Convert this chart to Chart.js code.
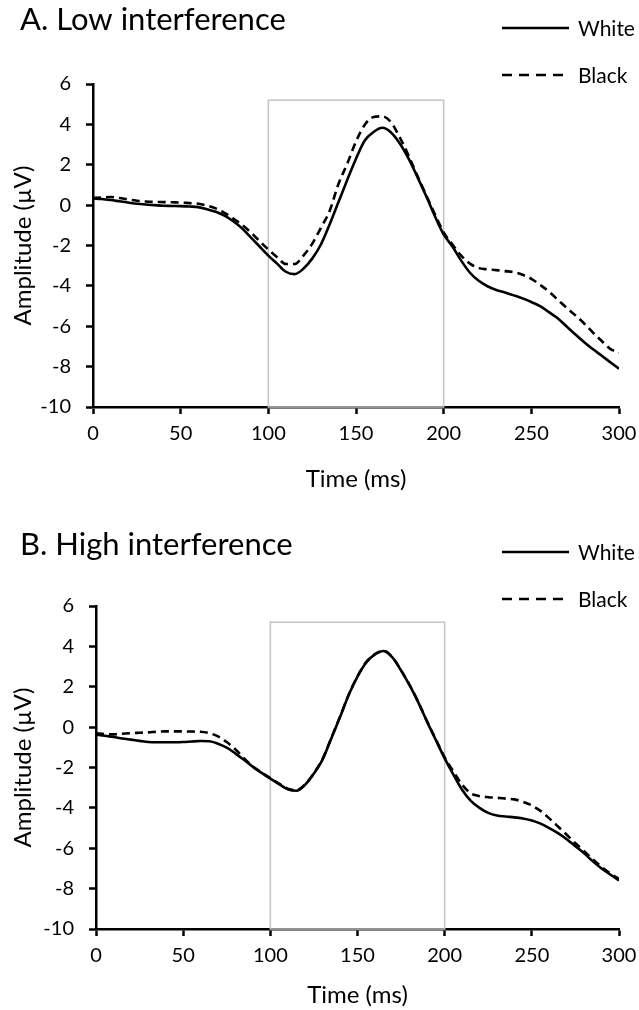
<!DOCTYPE html>
<html>
<head>
<meta charset="utf-8">
<script src="https://cdn.jsdelivr.net/npm/chart.js@4.4.1/dist/chart.umd.min.js"></script>
<style>
  body { margin: 0; background: #fff; }
  .panel { position: absolute; left: 0; width: 639px; }
  #panel-a { top: 0; height: 495px; }
  #panel-b { top: 495px; height: 515px; }
</style>
</head>
<body>
<div class="panel" id="panel-a"><canvas id="chart-a" width="639" height="495"></canvas></div>
<div class="panel" id="panel-b"><canvas id="chart-b" width="639" height="515"></canvas></div>
<script>
// time points (ms) the curves were read at
const timeMs = [0, 5, 10, 15, 20, 25, 30, 35, 40, 45, 50, 55, 60, 65, 70, 75, 80, 85, 90, 95,
  100, 105, 110, 115, 120, 125, 130, 135, 140, 145, 150, 155, 160, 165, 170, 175, 180, 185, 190, 195,
  200, 205, 210, 215, 220, 225, 230, 235, 240, 245, 250, 255, 260, 265, 270, 275, 280, 285, 290, 295, 300];

// A. Low interference
const lowWhite = [0.33, 0.30, 0.25, 0.19, 0.13, 0.07, 0.03, 0.0, -0.03, -0.04, -0.05, -0.07, -0.1, -0.2, -0.33, -0.52, -0.8, -1.15, -1.6, -2.05,
  -2.5, -2.9, -3.3, -3.42, -3.15, -2.65, -1.95, -0.95, 0.15, 1.25, 2.3, 3.2, 3.62, 3.83, 3.6, 3.05, 2.3, 1.4, 0.45, -0.55,
  -1.45, -2.05, -2.75, -3.35, -3.75, -4.02, -4.2, -4.33, -4.47, -4.62, -4.8, -5.0, -5.3, -5.6, -6.0, -6.4, -6.78, -7.13, -7.45, -7.78, -8.1];
const lowBlack = [0.35, 0.38, 0.4, 0.35, 0.28, 0.22, 0.18, 0.16, 0.15, 0.14, 0.13, 0.1, 0.07, -0.02, -0.16, -0.38, -0.66, -0.98, -1.35, -1.78,
  -2.2, -2.58, -2.92, -2.92, -2.5, -1.92, -1.12, -0.28, 1.05, 2.05, 3.15, 3.98, 4.37, 4.4, 4.1, 3.35, 2.45, 1.45, 0.5, -0.45,
  -1.35, -1.95, -2.5, -2.9, -3.12, -3.18, -3.22, -3.27, -3.32, -3.45, -3.65, -3.95, -4.28, -4.68, -5.08, -5.45, -5.85, -6.3, -6.72, -7.12, -7.3];

// B. High interference
const highWhite = [-0.36, -0.43, -0.49, -0.56, -0.62, -0.68, -0.74, -0.75, -0.75, -0.75, -0.74, -0.71, -0.69, -0.7, -0.82, -1.02, -1.31, -1.63, -1.97, -2.27,
  -2.55, -2.82, -3.08, -3.15, -2.85, -2.3, -1.6, -0.55, 0.5, 1.6, 2.5, 3.2, 3.6, 3.77, 3.45, 2.8, 2.05, 1.2, 0.25, -0.65,
  -1.55, -2.35, -3.1, -3.65, -4.0, -4.25, -4.38, -4.43, -4.47, -4.53, -4.62, -4.78, -5.0, -5.25, -5.55, -5.9, -6.25, -6.65, -7.0, -7.3, -7.6];
const highBlack = [-0.3, -0.34, -0.36, -0.33, -0.3, -0.28, -0.26, -0.23, -0.21, -0.21, -0.21, -0.22, -0.23, -0.3, -0.46, -0.74, -1.11, -1.55, -1.95, -2.25,
  -2.53, -2.8, -3.05, -3.12, -2.83, -2.28, -1.57, -0.53, 0.52, 1.62, 2.52, 3.22, 3.62, 3.78, 3.46, 2.82, 2.07, 1.22, 0.27, -0.62,
  -1.5, -2.2, -2.85, -3.28, -3.42, -3.47, -3.5, -3.54, -3.58, -3.7, -3.88, -4.15, -4.52, -4.92, -5.33, -5.75, -6.15, -6.55, -6.92, -7.25, -7.52];

const seriesNames = ['White', 'Black'];
const panelTitles = ['A. Low interference', 'B. High interference'];
const xRange = [0, 300];
const yRange = [-10, 6];
// the grey analysis window (ms, and its top in µV)
const windowMs = [100, 200];
const windowTop = 5.2;

Chart.defaults.font.family = 'Lato, "Open Sans", sans-serif';
Chart.defaults.color = '#000';

// grey box 100-200 ms, drawn behind the curves
const windowBox = {
  id: 'windowBox',
  beforeDatasetsDraw(chart) {
    const {ctx, scales: {x, y}} = chart;
    const left = x.getPixelForValue(windowMs[0]);
    const right = x.getPixelForValue(windowMs[1]);
    const top = y.getPixelForValue(windowTop);
    const bottom = y.getPixelForValue(yRange[0]);
    ctx.save();
    ctx.strokeStyle = '#c4c4c4';
    ctx.lineWidth = 1.5;
    ctx.strokeRect(left, top, right - left, bottom - top);
    ctx.restore();
  }
};

// panel heading + the little two row legend at top right
const panelText = {
  id: 'panelText',
  afterDraw(chart, args, opts) {
    const ctx = chart.ctx;
    ctx.save();
    ctx.fillStyle = '#000';
    ctx.textBaseline = 'alphabetic';
    ctx.font = '31px Lato, "Open Sans", sans-serif';
    ctx.fillText(opts.title, 20, opts.titleY);

    ctx.font = '21px Lato, "Open Sans", sans-serif';
    ctx.textBaseline = 'middle';
    chart.data.datasets.forEach((ds, i) => {
      const ly = opts.legendY[i];
      ctx.strokeStyle = '#000';
      ctx.lineWidth = 2.5;
      ctx.setLineDash(ds.borderDash.length ? [10, 7] : []);
      ctx.beginPath();
      ctx.moveTo(502, ly);
      ctx.lineTo(569, ly);
      ctx.stroke();
      ctx.fillText(ds.label, 578, ly + 1);
    });
    ctx.restore();
  }
};

function makeChart(canvasId, white, black, title, box) {
  const canvas = document.querySelector(canvasId);
  return new Chart(canvas.getContext('2d'), {
    type: 'line',
    data: {
      labels: timeMs,
      datasets: [
        { label: seriesNames[0], data: timeMs.map((t, i) => ({x: t, y: white[i]})), borderColor: '#000', borderWidth: 2.6, borderDash: [], pointRadius: 0, cubicInterpolationMode: 'monotone' },
        { label: seriesNames[1], data: timeMs.map((t, i) => ({x: t, y: black[i]})), borderColor: '#000', borderWidth: 2.6, borderDash: [8, 5], pointRadius: 0, cubicInterpolationMode: 'monotone' }
      ]
    },
    options: {
      responsive: false,
      animation: false,
      layout: { padding: box.padding },
      plugins: {
        legend: { display: false },
        tooltip: { enabled: false },
        panelText: { title: title, titleY: box.titleY, legendY: box.legendY }
      },
      scales: {
        x: {
          type: 'linear', min: xRange[0], max: xRange[1],
          ticks: { stepSize: 50, padding: 8, font: { size: 20 } },
          grid: { drawOnChartArea: false, drawTicks: true, tickLength: 7, color: '#000', tickWidth: 2.5 },
          border: { display: true, color: '#000', width: 2.5 },
          title: { display: true, text: 'Time (ms)', font: { size: 24 }, padding: 0 },
          afterFit(scale) {
            scale.height = box.xHeight;
            // don't let the "300" label push the plot in, layout padding handles it
            scale.paddingLeft = 0;
            scale.paddingRight = 0;
          }
        },
        y: {
          min: yRange[0], max: yRange[1],
          ticks: { stepSize: 2, padding: 15, font: { size: 20 } },
          grid: { drawOnChartArea: false, drawTicks: true, tickLength: 7, color: '#000', tickWidth: 2.5 },
          border: { display: true, color: '#000', width: 2.5 },
          title: { display: true, text: 'Amplitude (µV)', font: { size: 24 }, padding: 0 },
          afterFit(scale) { scale.width = box.yWidth; }
        }
      }
    },
    plugins: [windowBox, panelText]
  });
}

makeChart('#chart-a', lowWhite, lowBlack, panelTitles[0],
  { padding: { left: 9, top: 84, right: 20, bottom: 1 }, yWidth: 84, xHeight: 87, titleY: 30, legendY: [28, 75] });
makeChart('#chart-b', highWhite, highBlack, panelTitles[1],
  { padding: { left: 9, top: 111, right: 20, bottom: 0 }, yWidth: 87, xHeight: 81, titleY: 60, legendY: [57, 104] });
</script>
</body>
</html>
